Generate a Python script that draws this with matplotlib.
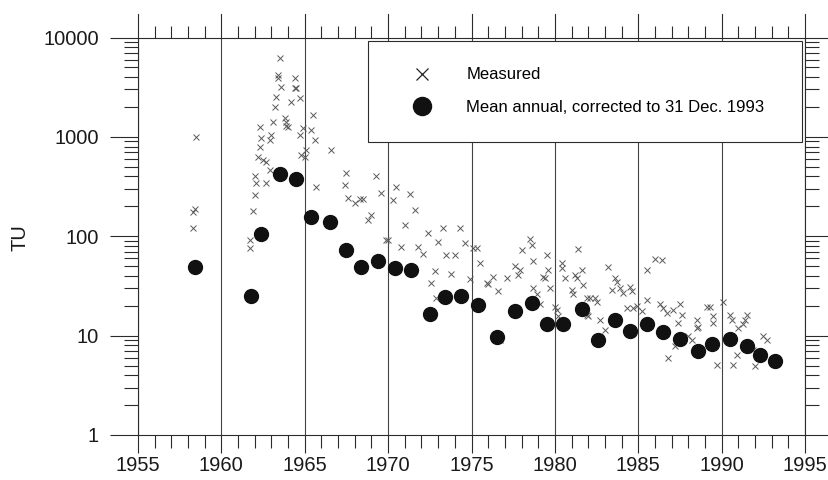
import matplotlib
matplotlib.use('Agg')
import matplotlib.pyplot as plt
from matplotlib.lines import Line2D
from matplotlib.ticker import FixedLocator, FixedFormatter, MultipleLocator, LogLocator, NullFormatter

plt.rcParams['font.family'] = ['Liberation Sans', 'DejaVu Sans']

# mean annual values, corrected to 31 Dec 1993
mean_year = [1958.4, 1961.8, 1962.4, 1963.5, 1964.5, 1965.4, 1966.5, 1967.5, 1968.4, 1969.4,
             1970.4, 1971.4, 1972.5, 1973.4, 1974.4, 1975.4, 1976.5, 1977.6, 1978.6, 1979.5,
             1980.5, 1981.6, 1982.6, 1983.6, 1984.5, 1985.5, 1986.5, 1987.5, 1988.6, 1989.4,
             1990.5, 1991.5, 1992.3, 1993.2]
mean_tu = [49, 25, 105, 420, 375, 155, 140, 73, 49, 56,
           48, 46, 16.5, 24.5, 25, 20.5, 9.6, 17.5, 21.5, 13,
           13, 18.5, 9, 14.5, 11.2, 13, 11, 9.2, 7, 8.2,
           9.2, 7.8, 6.4, 5.6]

# individual measurements
meas_year = [1958.5, 1958.4, 1958.3, 1958.3,
             1961.7, 1961.7, 1961.9, 1962.0, 1962.0, 1962.1, 1962.7, 1962.2, 1962.3, 1962.3,
             1962.4, 1962.5, 1962.7, 1962.9, 1963.0, 1963.1, 1962.9, 1963.2, 1963.3, 1963.4,
             1963.4, 1963.5, 1963.6, 1963.8, 1963.9, 1964.0, 1963.9, 1964.2, 1964.4, 1964.4,
             1964.5, 1964.7, 1964.7, 1964.9, 1964.8, 1965.0, 1965.1, 1965.5, 1965.4, 1965.6,
             1965.7,
             1966.6, 1967.5, 1967.4, 1967.6, 1968.0, 1968.3, 1968.5, 1969.3, 1969.6, 1968.8,
             1969.0, 1970.5, 1970.3, 1971.3, 1971.6, 1971.0, 1969.9, 1970.0, 1970.8, 1971.8,
             1972.1, 1972.4, 1973.0, 1973.3, 1974.3, 1974.6, 1973.5, 1974.0, 1972.8, 1972.6,
             1973.8, 1974.9, 1975.1, 1975.3, 1972.9,
             1975.5, 1975.9, 1976.0, 1976.3, 1976.6, 1977.1, 1976.7, 1977.6, 1977.8, 1977.9,
             1978.0, 1978.5, 1978.6, 1978.7, 1979.5, 1979.6, 1979.3, 1979.4, 1979.7, 1978.7,
             1978.9, 1979.1, 1980.0, 1980.1, 1980.2, 1980.4, 1980.4, 1980.6, 1981.3, 1981.2,
             1981.6, 1981.4, 1981.7, 1981.0, 1981.1, 1981.9, 1982.1, 1982.4, 1982.5, 1981.9,
             1982.0, 1982.7, 1983.0, 1983.2, 1983.4, 1983.6, 1983.7, 1983.9, 1984.1, 1984.3,
             1984.5, 1984.6, 1984.7, 1984.9,
             1985.2, 1985.5, 1985.5, 1986.0, 1986.4, 1986.3, 1986.5, 1986.7, 1987.1, 1987.5,
             1987.6, 1987.4, 1987.2, 1986.8, 1988.0, 1988.2, 1988.5, 1988.6, 1988.5, 1989.1,
             1989.3, 1989.5, 1989.5, 1989.7, 1990.1, 1990.5, 1990.6, 1990.9, 1990.7, 1991.0,
             1991.4, 1991.5, 1991.3, 1991.9, 1992.0, 1992.5, 1992.7]
meas_tu = [1000, 190, 175, 120,
           92, 76, 181, 260, 405, 340, 340, 630, 800, 1250,
           970, 590, 560, 930, 1050, 1420, 465, 2000, 2500, 3900,
           4200, 6200, 3200, 1550, 1420, 1250, 1300, 2260, 3900, 3100,
           3100, 2450, 1050, 1220, 660, 630, 740, 1660, 1170, 930,
           316,
           730, 430, 328, 245, 214, 237, 237, 400, 270, 146,
           164, 316, 230, 265, 184, 129, 92, 92, 78, 78,
           66, 107, 88, 120, 122, 85, 65, 65, 45, 34,
           42, 37, 76, 76, 24,
           54, 34, 33, 39, 28, 38, 9, 50, 41, 46,
           72, 93, 81, 57, 65, 46, 39, 38, 30, 30,
           26, 21, 19.6, 18, 15.6, 54, 48, 38, 38, 41,
           46, 74, 32, 29, 26, 24, 24, 24, 22, 16,
           15.6, 14.4, 11.4, 49, 29, 38, 35, 30, 27, 19,
           31, 28, 19, 20,
           17.5, 23, 46, 59, 58, 21, 19, 16.8, 18, 21,
           16, 13.3, 7.8, 5.9, 9.8, 9, 14.5, 12.3, 12, 19.6,
           19.3, 15.6, 13.3, 5.1, 22, 16, 14.5, 6.4, 5.1, 12,
           14.5, 16, 13, 7.2, 4.9, 10, 9]

yticks = [1, 10, 100, 1000, 10000]
ytick_labels = ['1', '10', '100', '1000', '10000']
xticks = [1955, 1960, 1965, 1970, 1975, 1980, 1985, 1990, 1995]

ink = '#2b2b2b'

fig = plt.figure(figsize=(8.29, 4.8), dpi=100)
ax = fig.add_axes([138/829, 45/480, 667/829, 397.5/480])

ax.plot(meas_year, meas_tu, ls='none', marker='x', ms=5, mew=0.7, color='#5a5a5a', zorder=3)
ax.plot(mean_year, mean_tu, ls='none', marker='o', ms=10, color='#111111', mec='#111111', zorder=4)

ax.set_yscale('log')
ax.set_xlim(1955, 1995)
ax.set_ylim(1, 10000)

ax.xaxis.set_major_locator(FixedLocator(xticks))
ax.xaxis.set_minor_locator(MultipleLocator(1))
ax.yaxis.set_major_locator(FixedLocator(yticks))
ax.yaxis.set_major_formatter(FixedFormatter(ytick_labels))
ax.yaxis.set_minor_locator(LogLocator(base=10, subs=range(2, 10), numticks=20))
ax.yaxis.set_minor_formatter(NullFormatter())

ax.tick_params(which='both', direction='out', top=True, right=True, color=ink, width=0.8,
               labelsize=14.5, labelcolor='#1a1a1a')
ax.xaxis.set_tick_params(which='major', length=13, pad=2)
ax.xaxis.set_tick_params(which='minor', length=9)
ax.tick_params(axis='x', which='major', top=False)
ax.yaxis.set_tick_params(which='major', length=20, pad=8)
ax.yaxis.set_tick_params(which='minor', length=10)

# taller major ticks on the top edge
for xv in xticks:
    ax.plot([xv, xv], [1.0, 1.06], transform=ax.get_xaxis_transform(), color=ink, lw=0.8,
            clip_on=False, zorder=2)

for s in ax.spines.values():
    s.set_color(ink)
    s.set_linewidth(0.8)

ax.grid(axis='x', which='major', color='#444444', lw=0.8)

handles = [Line2D([], [], ls='none', marker='x', ms=9, mew=0.9, color='#222222'),
           Line2D([], [], ls='none', marker='o', ms=13, color='#111111')]
leg = ax.legend(handles, ['Measured', 'Mean annual, corrected to 31 Dec. 1993'],
                loc='upper left', bbox_to_anchor=(0.345, 0.992, 0.651, 0.0), mode='expand',
                borderaxespad=0, fontsize=12, fancybox=False, framealpha=1, edgecolor=ink,
                borderpad=1.6, labelspacing=1.05, handlelength=3.3, handletextpad=1.0,
                numpoints=1)
leg.get_frame().set_linewidth(0.8)
leg.set_zorder(10)

fig.text(20/829, 1 - 238/480, 'TU', rotation=90, ha='center', va='center', fontsize=14.5,
         color='#1a1a1a')

fig.savefig('out.png', dpi=100)
